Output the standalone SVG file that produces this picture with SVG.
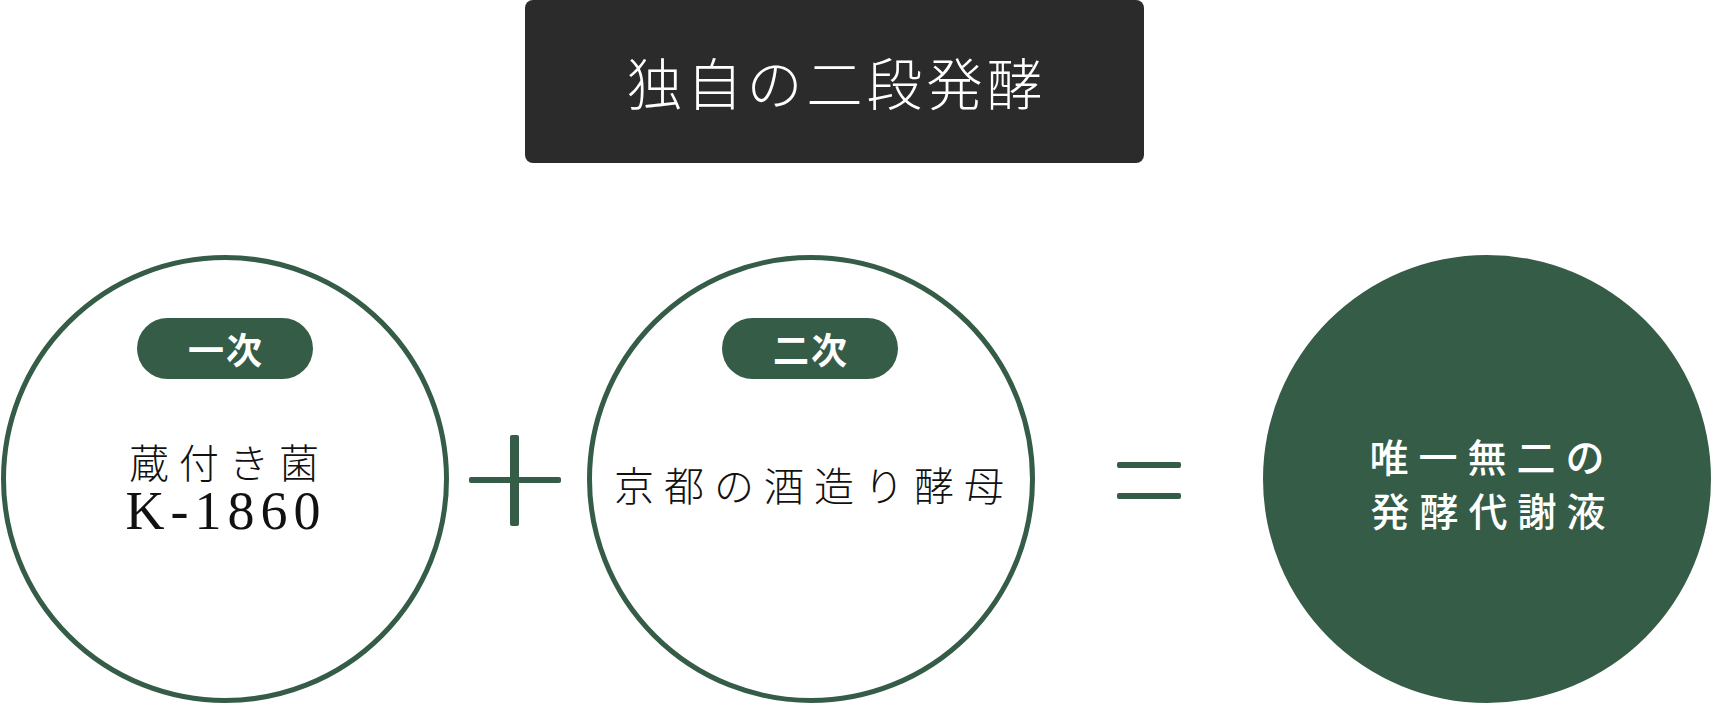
<svg xmlns="http://www.w3.org/2000/svg" width="1713" height="705" viewBox="0 0 1713 705">
  <style>
    .ring { fill: #ffffff; stroke: #355c46; stroke-width: 5; }
    .solid { fill: #355c46; }
    .pill { fill: #355c46; }
    .pilltxt { font-family: "Noto Sans CJK JP", "Noto Sans", sans-serif; font-weight: 700; font-size: 36px; fill: #ffffff; text-anchor: middle; dominant-baseline: central; letter-spacing: 2px; }
    .mincho { font-family: "Noto Sans CJK JP", sans-serif; font-weight: 300; font-size: 40px; fill: #111111; text-anchor: middle; dominant-baseline: central; letter-spacing: 10px; }
    .label { text-anchor: middle; fill: #111111; }
    .cjk { font-family: "Noto Sans CJK JP", sans-serif; font-weight: 300; font-size: 40px; letter-spacing: 10px; }
    .latin { font-family: "Liberation Serif", serif; font-size: 54px; letter-spacing: 6px; }
    .white { font-family: "Noto Sans CJK JP", sans-serif; font-weight: 500; font-size: 39px; fill: #ffffff; text-anchor: middle; dominant-baseline: central; letter-spacing: 10px; }
    .title { font-family: "Noto Sans CJK JP", sans-serif; font-weight: 300; font-size: 56px; fill: #ffffff; text-anchor: middle; dominant-baseline: central; letter-spacing: 4px; }
    .op { fill: #355c46; }
  </style>

  <g id="title">
    <rect x="525" y="0" width="619" height="163" rx="8" fill="#2b2b2b"/>
    <text class="title" x="836.5" y="80">独自の二段発酵</text>
  </g>

  <g id="node-primary">
    <circle class="ring" cx="225" cy="479" r="221.5"/>
    <rect class="pill" x="137" y="318" width="176" height="61" rx="30.5"/>
    <text class="pilltxt" x="226" y="348">一次</text>
    <text class="label"><tspan class="cjk" x="229" y="478">蔵付き菌</tspan><tspan class="latin" x="226" y="529">K-1860</tspan></text>
  </g>

  <g id="node-secondary">
    <circle class="ring" cx="811" cy="479" r="221.5"/>
    <rect class="pill" x="722" y="318" width="176" height="61" rx="30.5"/>
    <text class="pilltxt" x="811" y="348">二次</text>
    <text class="mincho" x="814" y="484">京都の酒造り酵母</text>
  </g>

  <g id="node-result">
    <circle class="solid" cx="1487" cy="479" r="224"/>
    <text class="white" x="1492" y="454.5">唯一無二の</text>
    <text class="white" x="1493" y="508.5">発酵代謝液</text>
  </g>

  <g id="connectors">
    <rect class="op" x="510" y="435" width="9" height="91" rx="2"/>
    <rect class="op" x="469" y="477" width="92" height="6" rx="2"/>
    <rect class="op" x="1117" y="462" width="64" height="6" rx="2"/>
    <rect class="op" x="1117" y="493" width="64" height="6" rx="2"/>
  </g>
</svg>
